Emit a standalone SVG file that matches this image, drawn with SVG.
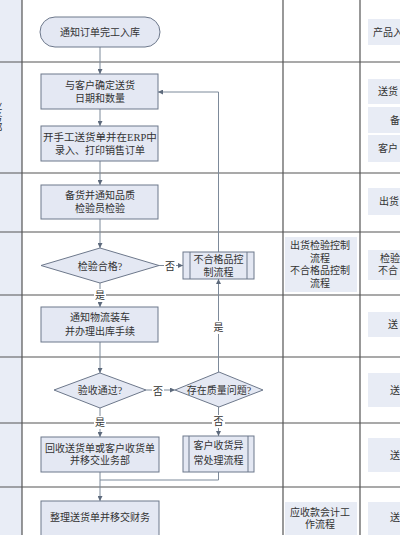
<svg xmlns="http://www.w3.org/2000/svg" width="400" height="535" viewBox="0 0 400 535">
<defs>
<style>
.t{font-family:"Liberation Serif","Noto Sans CJK SC",serif;font-size:10px;fill:#333;text-anchor:middle}
.n{fill:#e4e8f3;stroke:#6d788b;stroke-width:1}
.p{fill:#e8ecf5;stroke:none}
.g{stroke:#555;stroke-width:1.2;fill:none}
.c{stroke:#7d8a9a;stroke-width:1;fill:none}
.lb{fill:#fff}
</style>
<marker id="ah" viewBox="0 0 8 8" refX="8" refY="4" markerWidth="5" markerHeight="5" orient="auto">
<path d="M0,0 L8,4 L0,8 z" fill="#5d6a7c"/>
</marker>
</defs>
<rect width="400" height="535" fill="#fff"/>
<g id="lanes">
<rect x="0" y="0" width="22" height="535" fill="#e9edf6"/>
<text class="t" x="-3" y="110" style="font-size:11px">业</text>
<text class="t" x="-3" y="121" style="font-size:11px">务</text>
<text class="t" x="-3" y="132" style="font-size:11px">部</text>
<path class="g" d="M0,62H400M0,173H400M0,232H400M0,295H400M0,357H400M0,423H400M0,487H400M22,0V535M283,0V535M360,0V535"/>
</g>
<g id="notes">
<rect class="p" x="285" y="237" width="72" height="55"/>
<text class="t" x="320" y="249">出货检验控制</text>
<text class="t" x="320" y="262">流程</text>
<text class="t" x="320" y="274">不合格品控制</text>
<text class="t" x="320" y="287">流程</text>
<rect class="p" x="285" y="502" width="72" height="40"/>
<text class="t" x="320" y="516">应收款会计工</text>
<text class="t" x="320" y="528">作流程</text>
<rect class="p" x="368" y="19" width="40" height="26"/>
<text class="t" x="373" y="36" style="text-anchor:start">产品入</text>
<rect class="p" x="368" y="79" width="40" height="25"/>
<text class="t" x="378" y="95" style="text-anchor:start">送货</text>
<rect class="p" x="368" y="107" width="40" height="26"/>
<text class="t" x="390" y="124" style="text-anchor:start">备</text>
<rect class="p" x="368" y="135" width="40" height="27"/>
<text class="t" x="378" y="152" style="text-anchor:start">客户</text>
<rect class="p" x="368" y="188" width="40" height="27"/>
<text class="t" x="379" y="205" style="text-anchor:start">出货</text>
<rect class="p" x="368" y="250" width="40" height="30"/>
<text class="t" x="380" y="262" style="text-anchor:start">检验</text>
<text class="t" x="378" y="274" style="text-anchor:start">不合</text>
<rect class="p" x="368" y="312" width="40" height="25"/>
<text class="t" x="388" y="328" style="text-anchor:start">送</text>
<rect class="p" x="368" y="373" width="40" height="34"/>
<text class="t" x="390" y="394" style="text-anchor:start">送</text>
<rect class="p" x="368" y="438" width="40" height="34"/>
<text class="t" x="390" y="459" style="text-anchor:start">送</text>
<rect class="p" x="368" y="502" width="40" height="40"/>
<text class="t" x="390" y="521" style="text-anchor:start">送</text>
</g>
<g id="connectors">
<path class="c" d="M100,47V74" marker-end="url(#ah)"/>
<path class="c" d="M100,109V126" marker-end="url(#ah)"/>
<path class="c" d="M100,161V185" marker-end="url(#ah)"/>
<path class="c" d="M100,219V248" marker-end="url(#ah)"/>
<path class="c" d="M159,265.5H183" marker-end="url(#ah)"/>
<path class="c" d="M100,283V307" marker-end="url(#ah)"/>
<path class="c" d="M100,342V373" marker-end="url(#ah)"/>
<path class="c" d="M146,390H175" marker-end="url(#ah)"/>
<path class="c" d="M218.5,372V279" marker-end="url(#ah)"/>
<path class="c" d="M218.5,252V92H158" marker-end="url(#ah)"/>
<path class="c" d="M100,408V437" marker-end="url(#ah)"/>
<path class="c" d="M218.5,407V436" marker-end="url(#ah)"/>
<path class="c" d="M218.5,472V480H100"/>
<path class="c" d="M100,472V501" marker-end="url(#ah)"/>
<rect class="lb" x="164" y="259" width="12" height="13"/>
<text class="t" x="170" y="270">否</text>
<rect class="lb" x="94" y="289" width="12" height="13"/>
<text class="t" x="100" y="299">是</text>
<rect class="lb" x="152" y="384" width="12" height="13"/>
<text class="t" x="158" y="395">否</text>
<rect class="lb" x="212" y="321" width="13" height="13"/>
<text class="t" x="218.5" y="331">是</text>
<rect class="lb" x="94" y="416" width="12" height="13"/>
<text class="t" x="100" y="426">是</text>
<rect class="lb" x="212" y="415" width="13" height="13"/>
<text class="t" x="218.5" y="425">否</text>
</g>
<g id="n1">
<rect class="n" x="40" y="17" width="120" height="30" rx="15"/>
<text class="t" x="100" y="36">通知订单完工入库</text>
</g>
<g id="n2">
<rect class="n" x="41" y="74" width="117" height="35"/>
<text class="t" x="100" y="89">与客户确定送货</text>
<text class="t" x="100" y="102">日期和数量</text>
</g>
<g id="n3">
<rect class="n" x="41" y="126" width="117" height="35"/>
<text class="t" x="100" y="141" style="font-size:10.5px">开手工送货单并在ERP中</text>
<text class="t" x="100" y="154">录入、打印销售订单</text>
</g>
<g id="n4">
<rect class="n" x="41" y="185" width="117" height="34"/>
<text class="t" x="100" y="199">备货并通知品质</text>
<text class="t" x="100" y="212">检验员检验</text>
</g>
<g id="n5">
<polygon class="n" points="100,248 159,265.5 100,283 41,265.5"/>
<text class="t" x="100" y="269.5">检验合格?</text>
</g>
<g id="n6">
<rect class="n" x="183" y="252" width="71" height="27"/>
<path class="n" d="M190,252V279M247,252V279"/>
<text class="t" x="218.5" y="263">不合格品控</text>
<text class="t" x="218.5" y="276">制流程</text>
</g>
<g id="n7">
<rect class="n" x="41" y="307" width="117" height="35"/>
<text class="t" x="100" y="321">通知物流装车</text>
<text class="t" x="100" y="335">并办理出库手续</text>
</g>
<g id="n8">
<polygon class="n" points="100,373 146,390 100,408 54,390"/>
<text class="t" x="100" y="394">验收通过?</text>
</g>
<g id="n9">
<polygon class="n" points="219,372 263,390 219,407 175,390"/>
<text class="t" x="219" y="394">存在质量问题?</text>
</g>
<g id="n10">
<rect class="n" x="41" y="437" width="118" height="35"/>
<text class="t" x="100" y="452">回收送货单或客户收货单</text>
<text class="t" x="100" y="464">并移交业务部</text>
</g>
<g id="n11">
<rect class="n" x="183" y="436" width="71" height="36"/>
<path class="n" d="M189,436V472M248,436V472"/>
<text class="t" x="218.5" y="449">客户收货异</text>
<text class="t" x="218.5" y="464">常处理流程</text>
</g>
<g id="n12">
<rect class="n" x="41" y="501" width="118" height="40"/>
<text class="t" x="100" y="521">整理送货单并移交财务</text>
</g>
</svg>
